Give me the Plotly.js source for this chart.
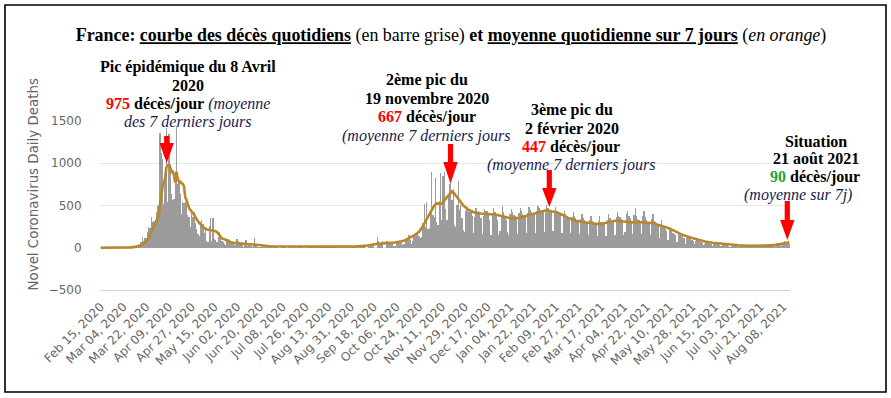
<!DOCTYPE html>
<html><head><meta charset="utf-8">
<script src="https://cdn.plot.ly/plotly-3.0.1.min.js"></script>
<style>html,body{margin:0;padding:0;background:#fff}#chart{width:891px;height:398px}</style>
</head><body><div id="chart"></div><script>
// ---- daily deaths (France), one array per month, starting 2020-02-15 ----
const feb2020 = [1,0,0,0,0,0,0,0,0,0,0,1,0,0,0];
const mar2020 = [0,0,1,0,2,3,2,10,6,8,15,13,18,12,36,21,27,69,128,78,112,112,186,240,231,365,299,319,292,418,499];
const apr2020 = [509,1355,1120,1053,518,833,1417,541,1341,987,635,561,574,762,1438,753,761,642,395,547,531,544,516,389,369,242,437,367,427,289];
const may2020 = [218,166,135,306,330,278,178,243,80,70,263,348,83,351,104,96,70,131,186,110,83,74,43,35,90,98,66,52,52,57,31];
const jun2020 = [31,107,81,44,46,27,13,54,87,23,27,28,24,10,29,111,28,14,14,9,8,23,29,18,14,23,11,5,30,27];
const jul2020 = [14,18,13,14,0,0,30,13,14,25,0,0,15,8,13,9,17,0,0,10,16,10,14,11,0,0,9,11,14,12,12];
const aug2020 = [0,0,9,8,17,9,11,0,0,14,15,17,12,16,0,0,11,9,17,18,14,0,0,8,15,15,20,12,0,0,13];
const sep2020 = [20,26,22,25,0,0,20,35,30,35,40,0,0,30,46,38,50,55,0,0,125,80,52,53,78,0,0,81,85,61];
const oct2020 = [50,58,49,16,25,78,76,80,74,54,27,43,86,104,88,150,89,45,85,146,162,163,165,137,116,128,288,523,244,545,224];
const nov2020 = [231,418,895,385,363,828,306,271,551,880,330,850,900,460,330,640,760,880,560,700,270,240,505,790,450,510,350,210,190,440];
const dec2020 = [480,420,450,430,380,170,360,470,420,440,400,350,160,380,460,440,430,400,330,150,390,470,420,380,330,150,200,380,490,420,360];
const jan2021 = [330,190,150,400,460,420,390,380,350,160,410,470,440,400,390,380,170,410,480,450,420,410,400,180,440,500,470,450,430,420,190];
const feb2021 = [460,510,470,450,440,430,200,450,480,440,420,410,390,180,400,440,400,370,360,330,170,360,420,380,350,330,310,160];
const mar2021 = [340,400,350,330,310,290,150,330,380,320,300,290,270,140,320,370,310,300,290,280,140,330,400,350,330,320,300,150,360,420,380];
const apr2021 = [360,340,310,150,190,400,430,380,350,320,160,390,470,370,340,330,310,160,380,440,360,330,310,300,150,340,400,320,300,280];
const may2021 = [260,120,280,330,260,240,220,200,90,230,250,200,180,160,150,70,170,190,150,140,120,110,50,110,140,110,100,90,80,40,80];
const jun2021 = [110,90,80,70,60,30,50,80,70,60,55,45,20,40,60,50,45,40,35,15,30,50,40,35,30,25,12,25,40,35];
const jul2021 = [30,25,20,8,18,35,25,22,20,15,6,15,30,20,25,18,15,5,20,35,25,28,22,20,8,25,40,35,30,32,25];
const aug2021 = [12,40,60,55,50,45,20,55,80,70,65,60,40];
const firstDay = '2020-02-15';

// ---- 7-day average ----
const avgDates = ['2020-02-15','2020-03-01','2020-03-07','2020-03-10','2020-03-13','2020-03-16','2020-03-18','2020-03-20','2020-03-22','2020-03-24','2020-03-26','2020-03-28','2020-03-30','2020-03-31','2020-04-01','2020-04-02','2020-04-03','2020-04-04','2020-04-05','2020-04-06','2020-04-07','2020-04-08','2020-04-09','2020-04-10','2020-04-11','2020-04-12','2020-04-13','2020-04-14','2020-04-15','2020-04-16','2020-04-17','2020-04-18','2020-04-19','2020-04-20','2020-04-21','2020-04-22','2020-04-23','2020-04-24','2020-04-25','2020-04-26','2020-04-27','2020-04-28','2020-04-29','2020-04-30','2020-05-03','2020-05-05','2020-05-07','2020-05-10','2020-05-14','2020-05-17','2020-05-21','2020-05-24','2020-05-28','2020-06-01','2020-06-07','2020-06-14','2020-06-21','2020-06-28','2020-07-05','2020-07-15','2020-07-25','2020-08-05','2020-08-15','2020-08-25','2020-09-05','2020-09-12','2020-09-20','2020-09-28','2020-10-05','2020-10-12','2020-10-16','2020-10-20','2020-10-24','2020-10-27','2020-10-30','2020-11-02','2020-11-05','2020-11-07','2020-11-09','2020-11-11','2020-11-13','2020-11-16','2020-11-19','2020-11-21','2020-11-24','2020-11-28','2020-12-02','2020-12-07','2020-12-12','2020-12-18','2020-12-24','2020-12-30','2021-01-05','2021-01-12','2021-01-20','2021-01-27','2021-02-02','2021-02-06','2021-02-10','2021-02-15','2021-02-20','2021-02-25','2021-03-02','2021-03-08','2021-03-16','2021-03-22','2021-03-28','2021-04-04','2021-04-10','2021-04-16','2021-04-22','2021-04-28','2021-05-02','2021-05-08','2021-05-14','2021-05-20','2021-05-26','2021-06-01','2021-06-07','2021-06-13','2021-06-20','2021-06-27','2021-07-04','2021-07-12','2021-07-20','2021-07-27','2021-08-03','2021-08-08','2021-08-13'];
const avgValues = [0,0.3,2,5,10,18,28,50,70,112,178,250,309,346,384,507,624,729,761,820,951,975,974,956,896,902,865,772,900,816,783,784,761,757,724,596,562,509,470,448,433,409,392,360,291,267,230,212,205,188,111,95,65,55,50,36,30,18,15,14,14,13,12,13,16,24,45,55,62,82,110,145,190,250,340,420,500,525,520,520,560,610,667,640,575,500,450,415,405,400,390,370,345,355,390,420,447,430,420,385,345,320,305,292,278,300,320,310,300,305,300,290,265,240,200,155,125,100,75,60,48,38,30,24,22,25,35,50,65];

const yTicks = [-500,0,500,1000,1500];
const yTitle = 'Novel Coronavirus Daily Deaths';

// ---- build series ----
const daily = [].concat(feb2020,mar2020,apr2020,may2020,jun2020,jul2020,aug2020,sep2020,oct2020,nov2020,dec2020,
  jan2021,feb2021,mar2021,apr2021,may2021,jun2021,jul2021,aug2021);
const t0 = Date.parse(firstDay + 'T00:00:00Z');
const dailyDates = daily.map((_, i) => new Date(t0 + i*864e5).toISOString().slice(0,10));

// ---- pixel helpers for decorations ----
const L = 100, R = 790, T = 121, B = 290;
const px = v => (v - L) / (R - L);
const py = v => (B - v) / (B - T);

function arrow(cx, top, headStart, tip) {
  const sw = 2.6, hw = 7.2;
  const pts = [[cx-sw,top],[cx+sw,top],[cx+sw,headStart],[cx+hw,headStart],[cx,tip],[cx-hw,headStart],[cx-sw,headStart]];
  return {type:'path', xref:'paper', yref:'paper', layer:'above',
    path: 'M' + pts.map(p => px(p[0]).toFixed(5) + ',' + py(p[1]).toFixed(5)).join('L') + 'Z',
    fillcolor:'#ff0000', line:{color:'rgba(0,0,0,0)', width:0}};
}

const NAVY = '#1a1a4e';
const red = s => '<span style="color:#ff0000">' + s + '</span>';
const grn = s => '<span style="color:#1fa33f">' + s + '</span>';
const it = s => '<i><span style="color:' + NAVY + '">' + s + '</span></i>';

const lines = [
  ['<b>Pic épidémique du 8 Avril</b>', 187.5, 67],
  ['<b>2020</b>', 187.5, 85],
  ['<b>' + red('975') + ' décès/jour</b> ' + it('(moyenne'), 187.5, 103.5],
  [it('des 7 derniers jours'), 187.5, 122],
  ['<b>2ème pic du</b>', 426.5, 80],
  ['<b>19 novembre 2020</b>', 426.5, 98.5],
  ['<b>' + red('667') + ' décès/jour</b>', 427, 117],
  [it('(moyenne 7 derniers jours'), 426, 136],
  ['<b>3ème pic du</b>', 571.5, 109.5],
  ['<b>2 février 2020</b>', 572, 128],
  ['<b>' + red('447') + ' décès/jour</b>', 570.5, 146.5],
  [it('(moyenne 7 derniers jours'), 571, 165],
  ['<b>Situation</b>', 816, 141],
  ['<b>21 août 2021</b>', 816, 158.5],
  ['<b>' + grn('90') + ' décès/jour</b>', 815.5, 177],
  [it('(moyenne sur 7j)'), 798, 194.5]
];

const annotations = lines.map(l => ({
  text: l[0], x: px(l[1]), y: py(l[2]), xref:'paper', yref:'paper',
  xanchor:'center', yanchor:'middle', showarrow:false,
  font:{family:'Liberation Serif, Times New Roman, serif', size:16, color:'#000'}
}));
annotations.push({
  text: yTitle, x: px(32.5), y: py(185), xref:'paper', yref:'paper', textangle:-90,
  xanchor:'center', yanchor:'middle', showarrow:false,
  font:{family:'DejaVu Sans, sans-serif', size:13.4, color:'#666666'}
});

const shapes = [
  {type:'rect', xref:'paper', yref:'paper', x0:px(5), x1:px(886), y0:py(392), y1:py(5),
   line:{color:'#000', width:1.6}, fillcolor:'rgba(0,0,0,0)'},
  arrow(166.7, 136, 143, 163),
  arrow(450.5, 144, 162, 183.5),
  arrow(549.3, 170, 188, 207),
  arrow(787.3, 201, 220, 240)
];

const traces = [
  {type:'bar', x: dailyDates, y: daily, marker:{color:'#9c9c9c', line:{width:0}}, hoverinfo:'skip'},
  {type:'scatter', mode:'lines', x: avgDates, y: avgValues, line:{color:'#b8862b', width:2.6}, hoverinfo:'skip'}
];

const layout = {
  width: 891, height: 398,
  margin: {l: L, r: 891 - R, t: T, b: 398 - B, pad: 0},
  paper_bgcolor:'#fff', plot_bgcolor:'#fff',
  showlegend:false, hovermode:false, bargap:0,
  title: {
    text: '<b>France: <u>courbe des décès quotidiens</u></b> (en barre grise) <b>et <u>moyenne quotidienne sur 7 jours</u></b> (<i>en orange</i>)',
    font:{family:'Liberation Serif, Times New Roman, serif', size:17.9, color:'#000'},
    xref:'container', yref:'container', x: 451/891, xanchor:'center', y: 1 - 35/398, yanchor:'middle'
  },
  xaxis: {
    type:'date', range:['2020-02-14 12:00','2021-08-13 12:00'],
    tick0:'2020-02-15', dtick: 18*864e5, tickformat:'%b %d, %Y', tickangle:-45,
    showgrid:false, zeroline:false, showline:true, linecolor:'#ccd6eb', linewidth:1,
    ticks:'outside', ticklen:4, tickcolor:'rgba(0,0,0,0)',
    tickfont:{family:'DejaVu Sans, sans-serif', size:12, color:'#666666'}
  },
  yaxis: {
    range:[-500,1500], tickvals: yTicks, ticktext: yTicks.map(v => v < 0 ? '\u2212' + Math.abs(v) : String(v)),
    showgrid:true, gridcolor:'#e6e6e6', gridwidth:1, zeroline:false, showline:false,
    ticks:'outside', ticklen:15, tickcolor:'rgba(0,0,0,0)',
    tickfont:{family:'DejaVu Sans, sans-serif', size:12, color:'#666666'}
  },
  annotations, shapes
};

Plotly.newPlot('chart', traces, layout, {staticPlot:true, displayModeBar:false});
</script></body></html>
